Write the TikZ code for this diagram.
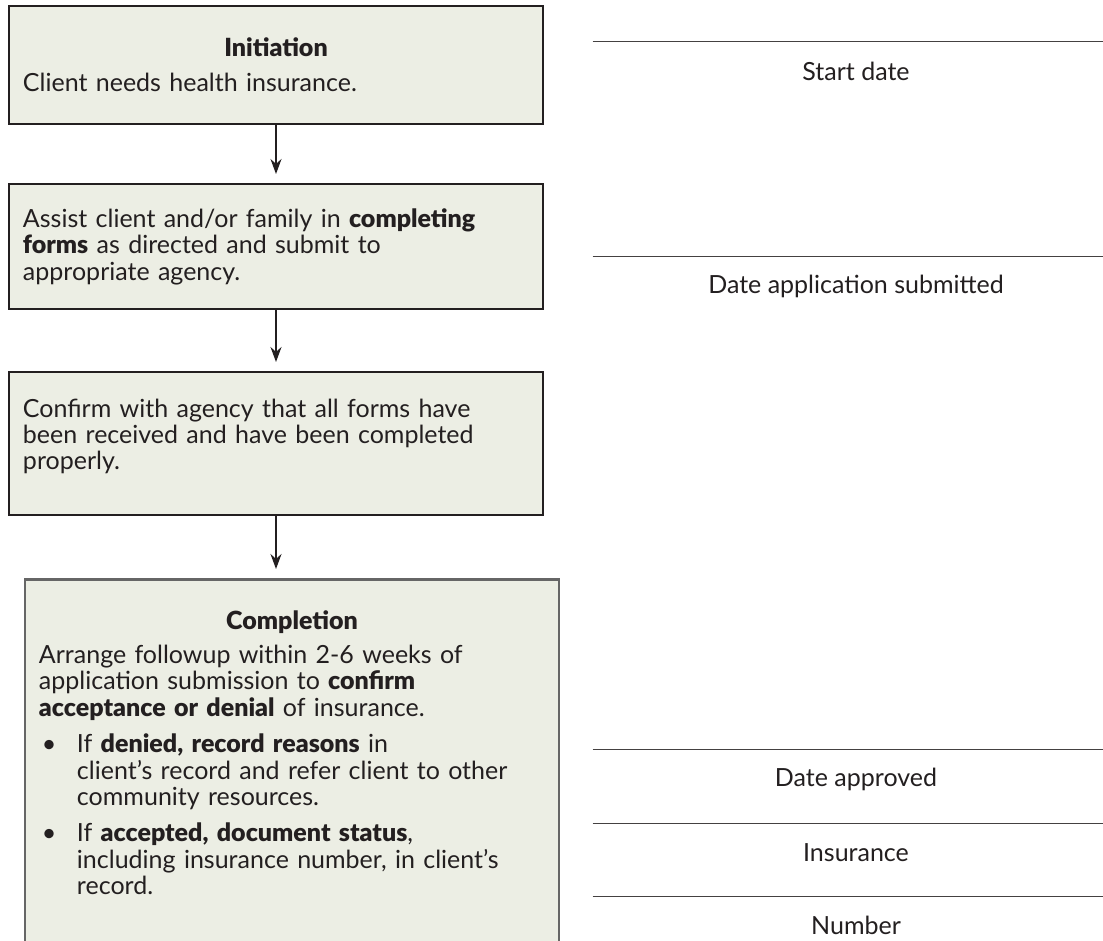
\documentclass[tikz,border=0pt]{standalone}
\usepackage{fontspec}
\setmainfont[BoldFont={Lato Black}]{Lato}
\usepackage{xcolor}
\usetikzlibrary{arrows.meta,positioning}

\definecolor{boxfill}{HTML}{ECEEE4}
\definecolor{ink}{HTML}{231F20}

% bullet paragraph with hanging text
\newcommand{\bitem}[1]{\par\vspace{5pt}{\leftskip=19pt\noindent\hspace*{-19pt}\makebox[19pt][l]{\hspace{1.5pt}\textbullet}#1\par}}

\begin{document}
\begin{tikzpicture}[
    stepbox/.style={draw=ink, line width=1pt, fill=boxfill, text=ink, text width=253pt, inner xsep=7pt, align=left, font=\fontsize{12.5}{13.2}\selectfont},
    blank/.style={minimum width=263pt, minimum height=29pt, inner sep=0pt, text=ink, font=\fontsize{12.5}{13.2}\selectfont},
    arrow/.style={-{Stealth[length=7.5pt,width=5.5pt]}, line width=0.75pt, draw=ink, shorten >=4.5pt},
    rule/.style={line width=0.7pt, draw=ink!85}
]
    \path[use as bounding box, fill=white] (0,0) rectangle (551.5pt,-470.5pt);
    \clip (0,0) rectangle (551.5pt,-470.5pt);

    % left column
    \node[stepbox, minimum height=59pt, anchor=north west] (init) at (4pt,-2.5pt)
        {{\centering\bfseries Initiation\par}\vspace{4.5pt}Client needs health insurance.};
    \node[stepbox, minimum height=62.5pt, below=29pt of init] (forms)
        {Assist client and/or family in \textbf{completing}\\ \textbf{forms} as directed and submit to\\ appropriate agency.};
    \node[stepbox, minimum height=71.5pt, below=30.5pt of forms] (confirm)
        {Confirm with agency that all forms have\\ been received and have been completed\\ properly.\par\vspace{7pt}};
    \node[stepbox, draw=black!60, line width=1.3pt, inner ysep=15.5pt, below=31pt of confirm, xshift=8pt] (compl)
        {{\centering\bfseries Completion\par}\vspace{4pt}Arrange followup within 2-6 weeks of\\ application submission to \textbf{confirm}\\ \textbf{acceptance or denial} of insurance.
        \bitem{If \textbf{denied, record reasons} in\\ client's record and refer client to other\\ community resources.}
        \bitem{If \textbf{accepted, document status},\\ including insurance number, in client's\\ record.}\vspace*{20pt}};

    \draw[arrow] (init) -- (forms);
    \draw[arrow] (forms) -- (confirm);
    \draw[arrow] (confirm.south) -- (confirm.south |- compl.north);

    % right column
    \node[blank] (startdate) at (428pt,-35.5pt) {Start date};
    \node[blank] (submitted) at (428pt,-143pt) {Date application submitted};
    \node[blank] (approved) at (428pt,-389.5pt) {Date approved};
    \node[blank, below=7.5pt of approved] (insurer) {Insurance};
    \node[blank, below=7pt of insurer] (policyno) {Number};

    \foreach \n in {startdate,submitted,approved,insurer,policyno}
        \draw[rule] (\n.north west) -- (\n.north east);

\end{tikzpicture}
\end{document}
